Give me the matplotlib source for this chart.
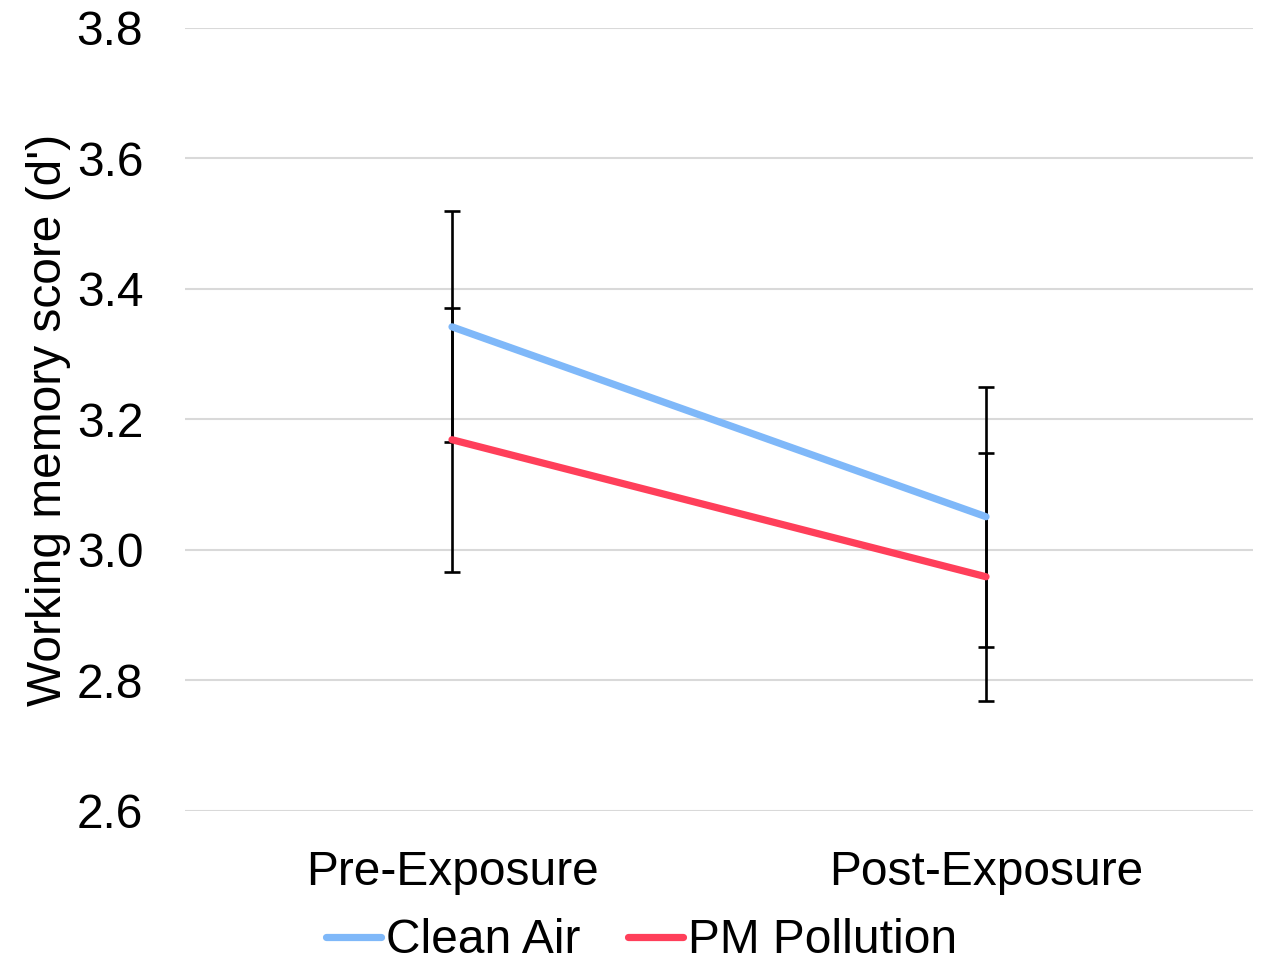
import matplotlib
matplotlib.use("Agg")
import matplotlib.pyplot as plt
import numpy as np

plt.rcParams['font.family'] = ['Liberation Sans', 'DejaVu Sans']

categories = ['Pre-Exposure', 'Post-Exposure']
clean_air = [3.342, 3.051]
clean_err = [0.177, 0.199]
pm_pollution = [3.169, 2.959]
pm_err = [0.202, 0.190]
yticks = [2.6, 2.8, 3.0, 3.2, 3.4, 3.6, 3.8]

fig = plt.figure(figsize=(12.63, 9.67), dpi=100)
ax = fig.add_axes([185/1263, 1-811/967, (1253-185)/1263, (811-28)/967])

x = np.arange(len(categories))
ax.errorbar(x, clean_air, yerr=clean_err, color='#7fb8f9', lw=5.2, ecolor='black',
            elinewidth=1.9, capsize=6, capthick=1.9, label='Clean Air', zorder=3,
            solid_capstyle='round')
ax.errorbar(x, pm_pollution, yerr=pm_err, color='#ff3f5a', lw=5.2, ecolor='black',
            elinewidth=1.9, capsize=6, capthick=1.9, label='PM Pollution', zorder=3,
            solid_capstyle='round')

ax.set_xlim(-0.5, 1.5)
ax.set_ylim(2.6, 3.8)
ax.set_yticks(yticks)
ax.set_yticklabels([f'{v:.1f}' for v in yticks])
ax.set_xticks(x)
ax.set_xticklabels(categories)
ax.tick_params(length=0, labelsize=34.5, colors='black')
ax.tick_params(axis='y', pad=30)
ax.tick_params(axis='x', pad=28)
for s in ax.spines.values():
    s.set_visible(False)
ax.yaxis.grid(True, color='#d9d9d9', lw=1.5)
ax.set_axisbelow(True)
ax.set_ylabel("Working memory score (d')", fontsize=34.5, labelpad=0)
ax.yaxis.set_label_coords(-0.107, 0.5)

handles, labels = ax.get_legend_handles_labels()
handles = [h[0] for h in handles]
fig.legend(handles, labels, loc='center', bbox_to_anchor=(0.508, 0.027), ncol=2,
           frameon=False, fontsize=34.5, handlelength=1.15, handletextpad=0.1,
           columnspacing=1.0)

fig.savefig("out.png", dpi=100)
